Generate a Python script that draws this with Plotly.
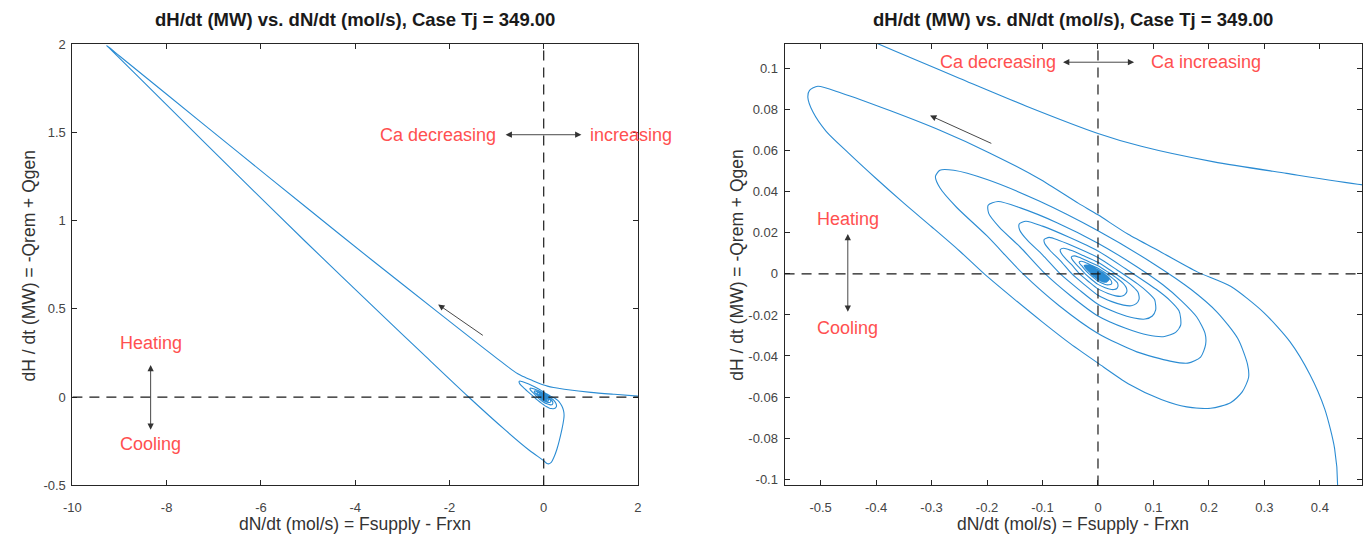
import plotly.graph_objects as go

# Phase trajectory (dN/dt [mol/s], dH/dt [MW]) for the Tj = 349.00 case.
# Upper branch, entering from the right edge and running out to the far-left tip.
approach = [
    (2.00, 0.006), (1.50, 0.016), (1.00, 0.027), (0.478, 0.0434), (0.34, 0.049),
    (0.209, 0.0546), (0.078, 0.0622), (0.0, 0.0685), (-0.13, 0.0819), (-0.249, 0.0953),
    (-0.33, 0.1045), (-0.408, 0.1135), (-0.47, 0.121), (-0.55, 0.132), (-0.65, 0.150),
    (-0.80, 0.180), (-0.98, 0.217), (-1.26, 0.275), (-2.24, 0.480), (-3.64, 0.775),
    (-5.04, 1.075), (-6.50, 1.390), (-8.00, 1.715), (-9.00, 1.932), (-9.22, 1.980),
    (-9.27, 1.990),
]

# Lower branch back towards the origin, then up the right side into the first big loop.
turnback = [
    (-9.20, 1.972), (-8.00, 1.655), (-6.50, 1.258), (-5.04, 0.877), (-3.50, 0.483),
    (-2.50, 0.229), (-1.61, 0.005), (-0.80, -0.190), (-0.30, -0.302), (0.00, -0.360),
    (0.06, -0.374), (0.105, -0.378), (0.16, -0.370), (0.21, -0.345), (0.28, -0.295),
    (0.385, -0.184), (0.425, -0.125), (0.432, -0.104), (0.4265, -0.085), (0.409, -0.066),
    (0.382, -0.049), (0.346, -0.033), (0.2985, -0.0187), (0.239, -0.006), (0.179, 0.001),
    (0.114, 0.0106), (0.0545, 0.0193), (0.0, 0.0288), (-0.035, 0.0344), (-0.106, 0.0464),
    (-0.1955, 0.059), (-0.285, 0.070), (-0.374, 0.0795), (-0.463, 0.0882), (-0.505, 0.0915),
    (-0.520, 0.0895), (-0.523, 0.0860), (-0.514, 0.079), (-0.49, 0.0695), (-0.45, 0.059),
    (-0.40, 0.0465), (-0.35, 0.0345), (-0.30, 0.023), (-0.25, 0.0113), (-0.205, 0.0),
    (-0.15, -0.0125), (-0.10, -0.0235), (-0.05, -0.034), (0.00, -0.0435), (0.0545, -0.0535),
    (0.114, -0.0612), (0.16, -0.0648), (0.203, -0.0655), (0.239, -0.0628), (0.260, -0.0575),
    (0.2715, -0.0505),
]

# Counter-clockwise spiral settling onto the steady state near the origin.
spiral = [
    # loop 2
    (0.2695, -0.044), (0.252, -0.0315), (0.215, -0.0187), (0.168, -0.0076), (0.10, 0.005),
    (0.0, 0.021), (-0.106, 0.0355), (-0.20, 0.046), (-0.26, 0.0505), (-0.285, 0.0505),
    (-0.293, 0.0475), (-0.285, 0.042), (-0.255, 0.0325), (-0.20, 0.0185), (-0.135, 0.0),
    (-0.07, -0.0155), (0.0, -0.029), (0.07, -0.038), (0.13, -0.0425), (0.162, -0.0435),
    (0.185, -0.0405), (0.194, -0.0345),
    # loop 3
    (0.193, -0.029), (0.178, -0.021), (0.150, -0.013), (0.117, -0.0053), (0.07, 0.0035),
    (0.0, 0.0150), (-0.074, 0.0250), (-0.14, 0.0322), (-0.18, 0.0353), (-0.198, 0.0335),
    (-0.197, 0.0295), (-0.178, 0.0228), (-0.14, 0.0130), (-0.095, 0.0), (-0.05, -0.0105),
    (0.0, -0.0205), (0.05, -0.0265), (0.09, -0.0298), (0.12, -0.0305), (0.14, -0.0285),
    (0.149, -0.025), (0.149, -0.0215),
    # loop 4
    (0.146, -0.018), (0.13, -0.013), (0.105, -0.0075), (0.05, 0.0025), (0.0, 0.0112),
    (-0.053, 0.0180), (-0.10, 0.0233), (-0.13, 0.0257), (-0.142, 0.0243), (-0.141, 0.0213),
    (-0.127, 0.0163), (-0.10, 0.0093), (-0.068, 0.0), (-0.035, -0.0075), (0.0, -0.0148),
    (0.035, -0.019), (0.065, -0.0215), (0.085, -0.022), (0.098, -0.0205), (0.104, -0.0175),
    (0.104, -0.0153),
    # loop 5
    (0.102, -0.0125), (0.09, -0.009), (0.072, -0.005), (0.035, 0.0018), (0.0, 0.0080),
    (-0.038, 0.0128), (-0.07, 0.0163), (-0.088, 0.0178), (-0.097, 0.0168), (-0.096, 0.0148),
    (-0.086, 0.0113), (-0.068, 0.0065), (-0.047, 0.0), (-0.024, -0.0053), (0.0, -0.0104),
    (0.025, -0.0135), (0.046, -0.0152), (0.060, -0.0155), (0.069, -0.0145), (0.074, -0.0124),
    (0.074, -0.0108),
    # loop 6
    (0.072, -0.0088), (0.064, -0.0064), (0.051, -0.0035), (0.025, 0.0013), (0.0, 0.0057),
    (-0.027, 0.0090), (-0.049, 0.0115), (-0.062, 0.0125), (-0.068, 0.0118), (-0.067, 0.0104),
    (-0.060, 0.0079), (-0.048, 0.0046), (-0.033, 0.0), (-0.017, -0.0037), (0.0, -0.0073),
    (0.018, -0.0095), (0.032, -0.0107), (0.042, -0.0109), (0.048, -0.0102), (0.052, -0.0087),
    (0.052, -0.0076),
    # loop 7
    (0.050, -0.0062), (0.045, -0.0045), (0.036, -0.0025), (0.018, 0.0009), (0.0, 0.0040),
    (-0.019, 0.0063), (-0.034, 0.0081), (-0.043, 0.0088), (-0.048, 0.0083), (-0.047, 0.0073),
    (-0.042, 0.0055), (-0.034, 0.0032), (-0.023, 0.0), (-0.012, -0.0026), (0.0, -0.0051),
    (0.013, -0.0067), (0.022, -0.0075), (0.029, -0.0076), (0.034, -0.0071), (0.036, -0.0061),
    (0.036, -0.0053),
    # loop 8
    (0.035, -0.0043), (0.031, -0.0032), (0.025, -0.0018), (0.013, 0.0006), (0.0, 0.0028),
    (-0.013, 0.0044), (-0.024, 0.0057), (-0.030, 0.0062), (-0.034, 0.0058), (-0.033, 0.0051),
    (-0.029, 0.0039), (-0.024, 0.0022), (-0.016, 0.0), (-0.008, -0.0018), (0.0, -0.0036),
    (0.009, -0.0047), (0.015, -0.0053), (0.020, -0.0053), (0.024, -0.0050), (0.025, -0.0043),
    # dense core: many slowly shrinking turns
    (0.0220, -0.0026), (0.0095, 0.0005), (0.0, 0.0021), (-0.0180, 0.0043), (-0.0250, 0.0040),
    (-0.0120, 0.0), (0.0, -0.0027), (0.0150, -0.0040),
    (0.0202, -0.0024), (0.0087, 0.0005), (0.0, 0.0019), (-0.0166, 0.0040), (-0.0230, 0.0037),
    (-0.0110, 0.0), (0.0, -0.0025), (0.0138, -0.0037),
    (0.0187, -0.0022), (0.0081, 0.0004), (0.0, 0.0018), (-0.0153, 0.0037), (-0.0213, 0.0034),
    (-0.0102, 0.0), (0.0, -0.0023), (0.0128, -0.0034),
    (0.0172, -0.0020), (0.0074, 0.0004), (0.0, 0.0016), (-0.0140, 0.0034), (-0.0195, 0.0031),
    (-0.0094, 0.0), (0.0, -0.0021), (0.0117, -0.0031),
    (0.0158, -0.0019), (0.0068, 0.0004), (0.0, 0.0015), (-0.0130, 0.0031), (-0.0180, 0.0029),
    (-0.0086, 0.0), (0.0, -0.0019), (0.0108, -0.0029),
    (0.0145, -0.0017), (0.0063, 0.0003), (0.0, 0.0014), (-0.0119, 0.0028), (-0.0165, 0.0026),
    (-0.0079, 0.0), (0.0, -0.0018), (0.0099, -0.0026),
    (0.0132, -0.0016), (0.0057, 0.0003), (0.0, 0.0013), (-0.0108, 0.0026), (-0.0150, 0.0024),
    (-0.0072, 0.0), (0.0, -0.0016), (0.0090, -0.0024),
    (0.0119, -0.0014), (0.0051, 0.0003), (0.0, 0.0011), (-0.0097, 0.0023), (-0.0135, 0.0022),
    (-0.0065, 0.0), (0.0, -0.0015), (0.0081, -0.0022),
    (0.0106, -0.0012), (0.0046, 0.0002), (0.0, 0.0010), (-0.0086, 0.0021), (-0.0120, 0.0019),
    (-0.0058, 0.0), (0.0, -0.0013), (0.0072, -0.0019),
    (0.0092, -0.0011), (0.0040, 0.0002), (0.0, 0.0009), (-0.0076, 0.0018), (-0.0105, 0.0017),
    (-0.0050, 0.0), (0.0, -0.0011), (0.0063, -0.0017),
    (0.0079, -0.0009), (0.0034, 0.0002), (0.0, 0.0008), (-0.0065, 0.0015), (-0.0090, 0.0014),
    (-0.0043, 0.0), (0.0, -0.0010), (0.0054, -0.0014),
    (0.0066, -0.0008), (0.0029, 0.0002), (0.0, 0.0006), (-0.0054, 0.0013), (-0.0075, 0.0012),
    (-0.0036, 0.0), (0.0, -0.0008), (0.0045, -0.0012),
    (0.0053, -0.0006), (0.0023, 0.0001), (0.0, 0.0005), (-0.0043, 0.0010), (-0.0060, 0.0010),
    (-0.0029, 0.0), (0.0, -0.0006), (0.0036, -0.0010),
    (0.0040, -0.0005), (0.0, 0.0004), (-0.0045, 0.0007), (-0.0022, 0.0), (0.0, -0.0005),
    (0.0027, -0.0007), (0.0022, -0.0003), (0.0, 0.0002), (-0.0025, 0.0004), (0.0, -0.0003),
    (0.0010, 0.0),
]

# Axis ranges and ticks of the two panels (full view and zoom on the origin).
left_xrange = [-10, 2]
left_yrange = [-0.5, 2]
left_xticks = [-10, -8, -6, -4, -2, 0, 2]
left_xticktext = ["-10", "-8", "-6", "-4", "-2", "0", "2"]
left_yticks = [-0.5, 0, 0.5, 1, 1.5, 2]
left_yticktext = ["-0.5", "0", "0.5", "1", "1.5", "2"]

right_xrange = [-0.565, 0.476]
right_yrange = [-0.1031, 0.1121]
right_xticks = [-0.5, -0.4, -0.3, -0.2, -0.1, 0, 0.1, 0.2, 0.3, 0.4]
right_xticktext = ["-0.5", "-0.4", "-0.3", "-0.2", "-0.1", "0", "0.1", "0.2", "0.3", "0.4"]
right_yticks = [-0.1, -0.08, -0.06, -0.04, -0.02, 0, 0.02, 0.04, 0.06, 0.08, 0.1]
right_yticktext = ["-0.1", "-0.08", "-0.06", "-0.04", "-0.02", "0",
                   "0.02", "0.04", "0.06", "0.08", "0.1"]

title_text = "dH/dt (MW) vs. dN/dt (mol/s), Case Tj = 349.00"
xlabel_text = "dN/dt (mol/s) = Fsupply - Frxn"
ylabel_text = "dH / dt (MW) = -Qrem + Qgen"

path = approach + turnback + spiral
xs = [p[0] for p in path]
ys = [p[1] for p in path]

FONT = "Liberation Sans, Arial, Helvetica, sans-serif"
CURVE = "#2B8CD3"
RED = "#FF5050"
INK = "#262626"

fig = go.Figure()
for xa, ya in (("x", "y"), ("x2", "y2")):
    fig.add_trace(go.Scatter(
        x=xs, y=ys, mode="lines", xaxis=xa, yaxis=ya, showlegend=False,
        line=dict(color=CURVE, width=1.1, shape="spline", smoothing=0.7),
        hoverinfo="skip",
    ))

axis_style = dict(
    showline=True, linecolor=INK, linewidth=1, mirror="ticks",
    ticks="inside", ticklen=5, tickcolor=INK, tickwidth=1,
    showgrid=False, zeroline=False,
    tickfont=dict(family=FONT, size=13, color="#444444"),
)

W, H = 1369, 544
ydom = [1 - 492 / H, 1 - 38 / H]
fig.update_layout(
    width=W, height=H,
    margin=dict(l=0, r=0, t=0, b=0),
    paper_bgcolor="white", plot_bgcolor="white",
    xaxis=dict(axis_style, domain=[64 / W, 635 / W], range=left_xrange, anchor="y",
               tickmode="array", tickvals=left_xticks, ticktext=left_xticktext,
               ticklabelstandoff=10),
    yaxis=dict(axis_style, domain=ydom, range=left_yrange, anchor="x",
               tickmode="array", tickvals=left_yticks, ticktext=left_yticktext,
               ticklabelstandoff=3),
    xaxis2=dict(axis_style, domain=[783 / W, 1366 / W], range=right_xrange, anchor="y2",
                tickmode="array", tickvals=right_xticks, ticktext=right_xticktext,
                ticklabelstandoff=10),
    yaxis2=dict(axis_style, domain=ydom, range=right_yrange, anchor="x2",
                tickmode="array", tickvals=right_yticks, ticktext=right_yticktext,
                ticklabelstandoff=3),
)

# Dashed zero lines in both panels
dash = dict(color="#1a1a1a", width=1.2, dash="10px,7px")
shapes = []
for xr, yr, xrng, yrng in (("x", "y", left_xrange, left_yrange),
                           ("x2", "y2", right_xrange, right_yrange)):
    shapes.append(dict(type="line", xref=xr, yref=yr, x0=0, x1=0, y0=yrng[0], y1=yrng[1], line=dash))
    shapes.append(dict(type="line", xref=xr, yref=yr, x0=xrng[0], x1=xrng[1], y0=0, y1=0, line=dash))
fig.update_layout(shapes=shapes)

ann = []
txt = dict(family=FONT, size=18, color=RED)
# panel titles and axis labels
for cx in ((64 + 635) / 2 / W, (783 + 1366) / 2 / W):
    ann.append(dict(xref="paper", yref="paper", x=cx, y=1 - 13 / H, xanchor="center",
                    yanchor="middle", text="<b>" + title_text + "</b>", showarrow=False,
                    font=dict(family=FONT, size=18.5, color="#1a1a1a")))
    ann.append(dict(xref="paper", yref="paper", x=cx, y=1 - 532 / H, xanchor="center",
                    yanchor="middle", text=xlabel_text, showarrow=False,
                    font=dict(family=FONT, size=17.5, color="#333333")))
for lx in (20 / W, 735 / W):
    ann.append(dict(xref="paper", yref="paper", x=lx, y=1 - 266 / H, xanchor="center",
                    yanchor="middle", text=ylabel_text, textangle=-90, showarrow=False,
                    font=dict(family=FONT, size=17.5, color="#333333")))

arrow = dict(showarrow=True, text="", arrowhead=2, arrowsize=1.4, arrowwidth=0.9,
             arrowcolor="#333333")
double = dict(arrow, arrowside="end+start", startarrowhead=2, startarrowsize=1.4)

# left panel labels
ann += [
    dict(xref="x", yref="y", x=-0.966, y=1.486, text="Ca decreasing", xanchor="right",
         yanchor="middle", showarrow=False, font=txt),
    dict(xref="x", yref="y", x=0.945, y=1.486, text="increasing", xanchor="left",
         yanchor="middle", showarrow=False, font=txt),
    dict(double, xref="x", yref="y", axref="x", ayref="y", x=0.80, y=1.486, ax=-0.84, ay=1.486),
    dict(xref="x", yref="y", x=-8.34, y=0.304, text="Heating", xanchor="center",
         yanchor="middle", showarrow=False, font=txt),
    dict(xref="x", yref="y", x=-8.34, y=-0.265, text="Cooling", xanchor="center",
         yanchor="middle", showarrow=False, font=txt),
    dict(double, xref="x", yref="y", axref="x", ayref="y", x=-8.34, y=0.182, ax=-8.34, ay=-0.193),
    dict(arrow, xref="x", yref="y", axref="x", ayref="y", x=-2.24, y=0.525, ax=-1.26, ay=0.344),
]
# right panel labels
ann += [
    dict(xref="x2", yref="y2", x=-0.0718, y=0.1032, text="Ca decreasing", xanchor="right",
         yanchor="middle", showarrow=False, font=txt),
    dict(xref="x2", yref="y2", x=0.0914, y=0.1032, text="Ca increasing", xanchor="left",
         yanchor="middle", showarrow=False, font=txt),
    dict(double, xref="x2", yref="y2", axref="x2", ayref="y2", x=0.0652, y=0.1032, ax=-0.0657, ay=0.1032),
    dict(xref="x2", yref="y2", x=-0.451, y=0.0268, text="Heating", xanchor="center",
         yanchor="middle", showarrow=False, font=txt),
    dict(xref="x2", yref="y2", x=-0.451, y=-0.0266, text="Cooling", xanchor="center",
         yanchor="middle", showarrow=False, font=txt),
    dict(double, xref="x2", yref="y2", axref="x2", ayref="y2", x=-0.451, y=0.0195, ax=-0.451, ay=-0.0192),
    dict(arrow, xref="x2", yref="y2", axref="x2", ayref="y2", x=-0.3027, y=0.0772, ax=-0.1896, ay=0.0633),
]
fig.update_layout(annotations=ann)

fig.write_html("out.html")
